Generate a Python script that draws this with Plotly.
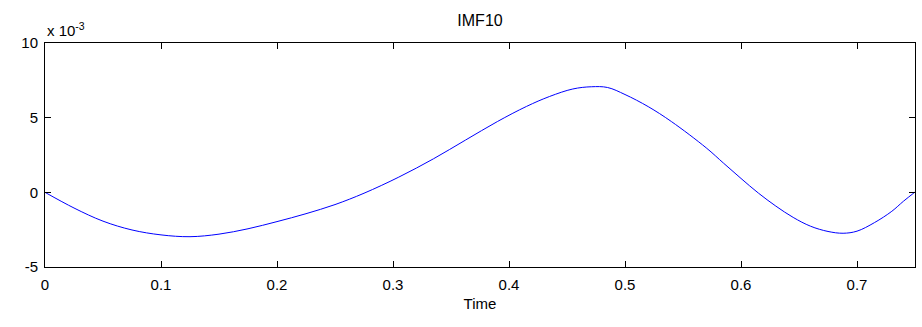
import numpy as np
import plotly.graph_objects as go

# Data (y in units of 1e-3)
time_vals = [0, 0.025, 0.05, 0.075, 0.1, 0.125, 0.15, 0.175, 0.2, 0.225, 0.25, 0.275,
             0.305, 0.335, 0.3625, 0.39, 0.415, 0.435, 0.455, 0.471, 0.485, 0.5, 0.52, 0.54,
             0.57, 0.585, 0.6, 0.615, 0.63, 0.645, 0.66, 0.675, 0.688, 0.7, 0.715,
             0.73, 0.74, 0.75]
imf_vals_e3 = [0, -1.05, -1.93, -2.52, -2.85, -2.97, -2.8, -2.44, -1.96, -1.43, -0.82, -0.06,
               1.02, 2.25, 3.5, 4.74, 5.75, 6.42, 6.92, 7.07, 7.02, 6.55, 5.74, 4.74,
               2.98, 1.95, 0.93, -0.05, -0.92, -1.68, -2.27, -2.62, -2.74, -2.6, -2.03,
               -1.27, -0.6, 0.02]
SCALE = 1e-3
x_ticks = [0, 0.1, 0.2, 0.3, 0.4, 0.5, 0.6, 0.7]
x_ticklabels = ["0", "0.1", "0.2", "0.3", "0.4", "0.5", "0.6", "0.7"]
y_ticks_e3 = [-5, 0, 5, 10]
y_ticklabels = ["-5", "0", "5", "10"]

y_vals = [v * SCALE for v in imf_vals_e3]

FONT = "Liberation Sans, Arial, sans-serif"

fig = go.Figure()
fig.add_trace(go.Scatter(x=time_vals, y=y_vals, mode="lines",
                         line=dict(color="#0000ff", width=1, shape="spline", smoothing=1.0),
                         hoverinfo="skip", showlegend=False))

axis_common = dict(showgrid=False, zeroline=False, showline=True, linecolor="#000000",
                   linewidth=1, mirror="ticks", ticks="inside", ticklen=6,
                   tickcolor="#000000", tickwidth=1,
                   tickfont=dict(family=FONT, size=15, color="#000000"))

fig.update_layout(
    width=922, height=327,
    margin=dict(l=45, r=7, t=43, b=60),
    paper_bgcolor="white", plot_bgcolor="white",
    title=dict(text="IMF10", x=0.5, xref="paper", xanchor="center",
               y=1 - 20 / 327, yanchor="middle",
               font=dict(family=FONT, size=16, color="#000000")),
    xaxis=dict(range=[0, 0.75], tickvals=x_ticks, ticktext=x_ticklabels,
               title=dict(text="Time", font=dict(family=FONT, size=15, color="#000000"),
                          standoff=6),
               ticklabelstandoff=4, **axis_common),
    yaxis=dict(range=[-5 * SCALE, 10 * SCALE],
               tickvals=[v * SCALE for v in y_ticks_e3], ticktext=y_ticklabels,
               ticklabelstandoff=3, **axis_common),
    annotations=[dict(text="x 10<sup>-3</sup>", xref="paper", yref="paper",
                      x=0, y=1, xanchor="left", yanchor="bottom", yshift=2,
                      showarrow=False,
                      font=dict(family=FONT, size=15, color="#000000"))],
)

fig.write_html("out.html")
